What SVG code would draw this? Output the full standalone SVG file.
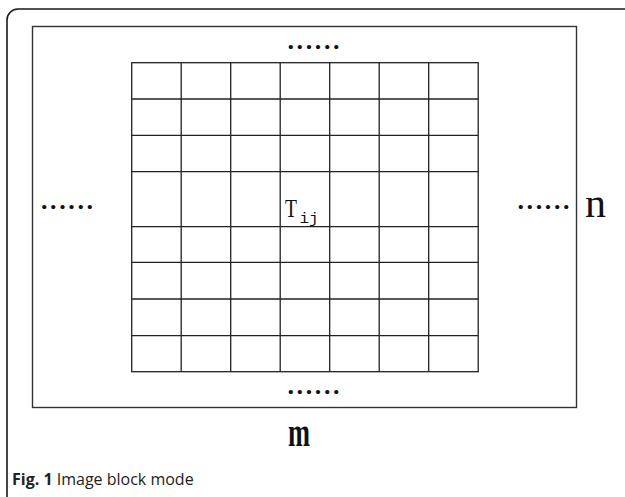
<svg xmlns="http://www.w3.org/2000/svg" width="625" height="497" viewBox="0 0 625 497">
<style>
.frame{fill:none;stroke:#1a1a1a;stroke-width:1.6}
.box{fill:none;stroke:#333;stroke-width:1.4}
.grid{fill:none;stroke:#222;stroke-width:1.3}
.dots{font-family:"Liberation Serif",serif;font-size:26px;font-weight:bold;fill:#111}
.big{font-family:"Liberation Serif",serif;font-size:40px;fill:#111}
.cap{font-family:"Open Sans","Noto Sans",sans-serif;font-size:16px;fill:#222}
</style>
<rect class="frame" x="7" y="9" width="640" height="500" rx="11"/>
<g id="image">
<rect class="box" x="32.5" y="26.5" width="544" height="381"/>
</g>
<g id="grid">
<rect class="grid" x="131.7" y="62.7" width="346.5" height="309"/>
<path class="grid" d="M181.2 62.7V371.7M230.7 62.7V371.7M280.2 62.7V371.7M329.7 62.7V371.7M379.2 62.7V371.7M428.7 62.7V371.7M131.7 99H478.2M131.7 135.3H478.2M131.7 171.7H478.2M131.7 226.7H478.2M131.7 262.3H478.2M131.7 299H478.2M131.7 335.7H478.2"/>
</g>
<g id="labels">
<text class="dots" x="287.5" y="48.5" textLength="52" lengthAdjust="spacing">......</text>
<text class="dots" x="287.5" y="393.5" textLength="52" lengthAdjust="spacing">......</text>
<text class="dots" x="41" y="208.5" textLength="52" lengthAdjust="spacing">......</text>
<text class="dots" x="517.5" y="208.5" textLength="52" lengthAdjust="spacing">......</text>
<text class="big" x="585" y="217" textLength="21" lengthAdjust="spacingAndGlyphs">n</text>
<text class="big" x="288" y="446" font-weight="bold" textLength="22" lengthAdjust="spacingAndGlyphs">m</text>
<text x="285" y="216.5" font-family="Liberation Serif,serif" font-size="26" fill="#111" textLength="12" lengthAdjust="spacingAndGlyphs">T</text>
<text x="299.5" y="222.5" font-family="Liberation Mono,monospace" font-size="14" fill="#111" textLength="19" lengthAdjust="spacingAndGlyphs">ij</text>
</g>
<text class="cap" x="12" y="485"><tspan font-weight="bold">Fig. 1</tspan> Image block mode</text>
</svg>
